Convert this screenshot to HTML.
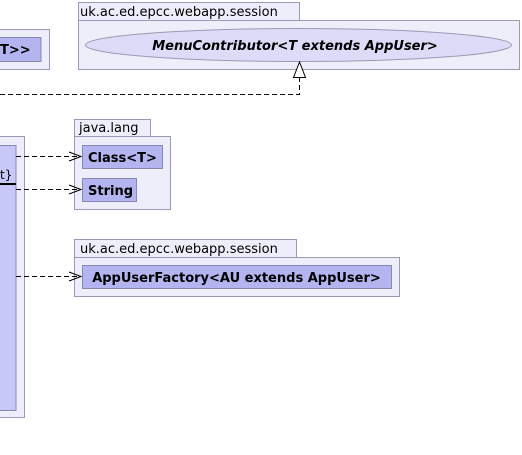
<!DOCTYPE html>
<html><head><meta charset="utf-8"><style>
html,body{margin:0;padding:0;background:#fff;width:522px;height:455px;overflow:hidden}
svg text{font-family:"DejaVu Sans","Liberation Sans",sans-serif;}
</style></head><body>
<svg width="522" height="455" xmlns="http://www.w3.org/2000/svg">
<rect x="-2" y="29.5" width="51.5" height="40" fill="#eeeefa" stroke="#9a9ab4"/>
<rect x="-2" y="37.5" width="43" height="24" fill="#b4b4f0" stroke="#8888b0"/>
<text x="0" y="54" font-size="13" font-weight="bold" fill="#000">T&gt;&gt;</text>
<rect x="78.5" y="2.5" width="221" height="18" fill="#eeeefa" stroke="#9a9ab4"/>
<text x="80" y="16" font-size="13" fill="#000">uk.ac.ed.epcc.webapp.session</text>
<rect x="78.5" y="20.5" width="441" height="49" fill="#eeeefa" stroke="#9a9ab4"/>
<ellipse cx="298.5" cy="45" rx="213" ry="16.5" fill="#dcdcf8" stroke="#9a9ab4"/>
<text x="295" y="50" font-size="13" font-weight="bold" font-style="italic" text-anchor="middle" fill="#000">MenuContributor&lt;T extends AppUser&gt;</text>
<path d="M0 94.5 H299.5 V77" fill="none" stroke="#000" stroke-dasharray="5,3"/>
<polygon points="299.5,62 293.5,77.5 305.5,77.5" fill="#fff" stroke="#000"/>
<rect x="-2" y="136.5" width="26.5" height="281" fill="#eeeefa" stroke="#9a9ab4"/>
<rect x="-2" y="145.5" width="18" height="265" fill="#c8c8f8" stroke="#8888b0"/>
<text x="0" y="179" font-size="12" fill="#000">t}</text>
<line x1="-2" y1="184" x2="16" y2="184" stroke="#000" stroke-width="2"/>
<rect x="74.5" y="119.5" width="76" height="17" fill="#eeeefa" stroke="#9a9ab4"/>
<text x="79" y="132" font-size="13" fill="#000">java.lang</text>
<rect x="74.5" y="136.5" width="96" height="73" fill="#eeeefa" stroke="#9a9ab4"/>
<rect x="82.5" y="145.5" width="80" height="23" fill="#b4b4f0" stroke="#8888b0"/>
<text x="88" y="162" font-size="13" font-weight="bold" fill="#000">Class&lt;T&gt;</text>
<rect x="82.5" y="178.5" width="54" height="23" fill="#b4b4f0" stroke="#8888b0"/>
<text x="88" y="195" font-size="13" font-weight="bold" fill="#000">String</text>
<rect x="74.5" y="239.5" width="222" height="18" fill="#eeeefa" stroke="#9a9ab4"/>
<text x="80" y="253" font-size="13" fill="#000">uk.ac.ed.epcc.webapp.session</text>
<rect x="74.5" y="257.5" width="325" height="39" fill="#eeeefa" stroke="#9a9ab4"/>
<rect x="82.5" y="265.5" width="309" height="23" fill="#b4b4f0" stroke="#8888b0"/>
<text x="236.5" y="282" font-size="13" font-weight="bold" text-anchor="middle" fill="#000">AppUserFactory&lt;AU extends AppUser&gt;</text>
<g fill="none" stroke="#000">
<path d="M16 156.5 H81" stroke-dasharray="5,3"/>
<path d="M69 152 L81 156.5 L69 161"/>
<path d="M16 189.5 H81" stroke-dasharray="5,3"/>
<path d="M69 185 L81 189.5 L69 194"/>
<path d="M16 276.5 H81" stroke-dasharray="5,3"/>
<path d="M69 272 L81 276.5 L69 281"/>
</g>
</svg>
</body></html>
